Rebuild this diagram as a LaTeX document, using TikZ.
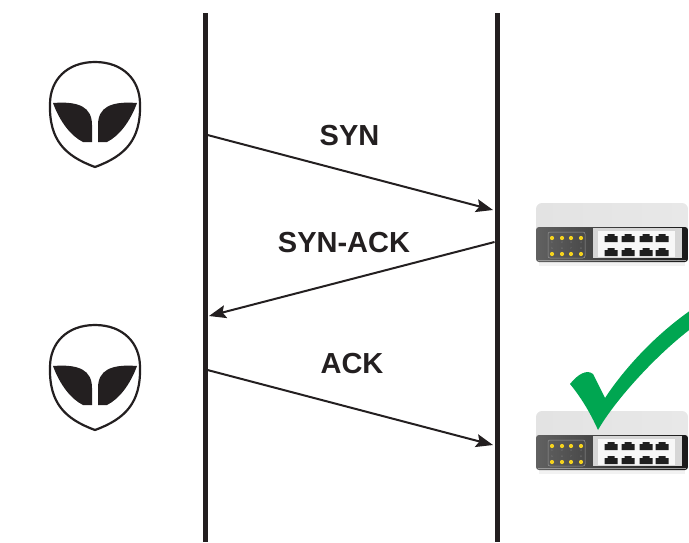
\documentclass[tikz,border=0pt]{standalone}
\usepackage{fontspec}
\setmainfont{Liberation Sans}
\usetikzlibrary{arrows.meta}

\definecolor{ink}{HTML}{231F20}
\definecolor{okgreen}{HTML}{00A651}
\definecolor{led}{HTML}{F5D31E}

\tikzset{
  lifeline/.style={ink,line width=5pt},
  msg/.style={ink,line width=2pt,-{Stealth[length=17pt,width=13pt,inset=3pt]}},
  msglabel/.style={font=\bfseries\fontsize{29}{29}\selectfont,text=ink,anchor=base,inner sep=0pt},
  ledno/.style={font=\fontsize{2.5}{3}\selectfont,text=black!45,inner sep=0pt},
  % head with two slanted eyes, origin at the top of the skull
  pics/alien/.style={code={
    \draw[ink,line width=2.2pt,fill=white] (0,0) .. controls (28,0) and (45,18) .. (45,42)
      .. controls (46,78) and (30,94) .. (0,105)
      .. controls (-30,94) and (-46,78) .. (-45,42)
      .. controls (-45,18) and (-28,0) .. (0,0) -- cycle;
    \foreach \s in {1,-1} {
      \fill[ink,xscale=\s] (-42,41) .. controls (-16,39) and (-3,45) .. (-3,63) -- (-3,80) -- (-12,80)
        .. controls (-24,74) and (-35,60) .. cycle;
    }
  }},
  % 8-port switch, origin at the top left corner of the lid
  pics/netswitch/.style={code={
    \fill[black!5] (3,58) rectangle (149,63);
    \shade[left color=black!11,middle color=white,right color=black!9,rounded corners=6pt]
      (0,28) -- (0,0) -- (152,0) -- (152,28);
    \shade[left color=black!62,right color=black!90,rounded corners=3pt] (0,24) rectangle (152,59);
    \draw[black!40,line width=0.6pt] (2,57.5) -- (150,57.5);
    \draw[black!40,line width=0.5pt,rounded corners=2pt] (12,29) rectangle (49,55);
    \foreach \x [count=\n] in {16,26,35,45} {
      \fill[led] (\x,35) circle (2.1pt);
      \fill[led] (\x,51) circle (2.1pt);
      \pgfmathtruncatemacro\m{\n+4}
      \node[ledno] (top\n) at (\x,40) {\n};
      \node[ledno] (bot\n) at (\x,46) {\m};
    }
    \fill[black!16] (57,25) rectangle (146,55);
    \fill[black!3] (61.5,28) rectangle (138.5,53.5);
    \foreach \x in {75,92,110,126} \foreach \y in {35,49} {
      \fill[black!88] (\x-6.5,\y-2) rectangle (\x+6.5,\y+4) (\x-3.5,\y-4) rectangle (\x+3.5,\y-2);
    }
  }}
}

\begin{document}
\begin{tikzpicture}[x=1pt,y=-1pt]
  \useasboundingbox (0,0) rectangle (689,542);
  \begin{scope}
  \clip (0,0) rectangle (689,542);

  % client and server time lines
  \coordinate (cl-top) at (205,13);
  \coordinate (cl-bot) at (205,542);
  \coordinate (sv-top) at (497,13);
  \coordinate (sv-bot) at (497,542);
  \draw[lifeline] (cl-top) -- (cl-bot);
  \draw[lifeline] (sv-top) -- (sv-bot);

  % the two ends
  \pic at (95,62) {alien};
  \pic at (95,325) {alien};
  \pic at (536,203) {netswitch};
  \pic at (536,411) {netswitch};

  % handshake
  \coordinate (syn-a) at (207.5,135);
  \coordinate (syn-b) at (493,210);
  \coordinate (sa-a) at (494.5,242);
  \coordinate (sa-b) at (209,316);
  \coordinate (ack-a) at (207.5,370);
  \coordinate (ack-b) at (493,445);
  \draw[msg] (syn-a) -- (syn-b);
  \draw[msg] (sa-a) -- (sa-b);
  \draw[msg] (ack-a) -- (ack-b);
  \node[msglabel] (syn) at (349.5,145) {SYN};
  \node[msglabel] (synack) at (344,252) {SYN-ACK};
  \node[msglabel] (ack) at (352,373) {ACK};

  % tick over the second switch
  \fill[okgreen] (570,384) .. controls (578,374) and (587,369) .. (593,374) -- (605,398)
    .. controls (622,372) and (655,333) .. (700,304) -- (700,322)
    .. controls (660,350) and (615,400) .. (598,430)
    .. controls (590,412) and (580,396) .. cycle;
  \end{scope}
\end{tikzpicture}
\end{document}
